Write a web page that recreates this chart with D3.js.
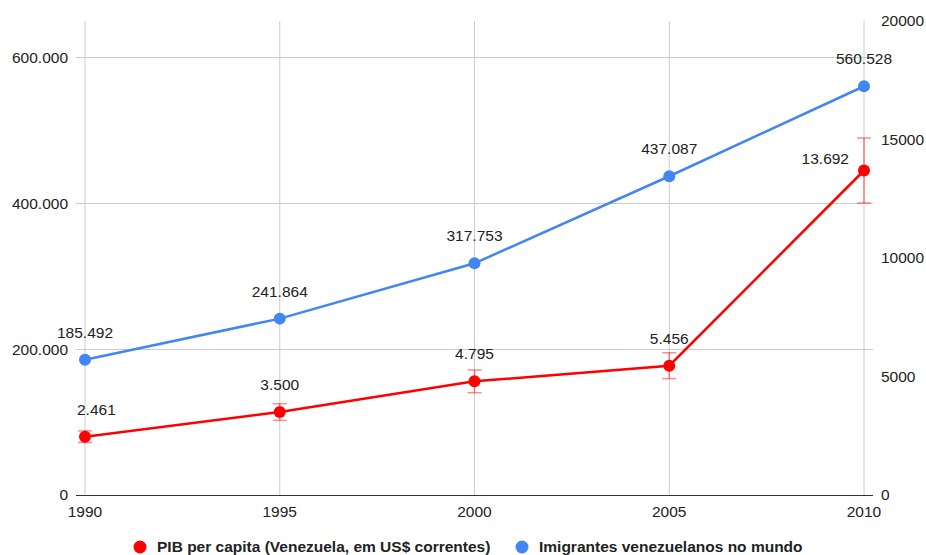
<!DOCTYPE html>
<html>
<head>
<meta charset="utf-8">
<script src="https://cdn.jsdelivr.net/npm/d3@7"></script>
<style>
  html, body { margin: 0; padding: 0; background: #fff; }
  svg { display: block; font-family: "Liberation Sans", Arial, sans-serif; }
</style>
</head>
<body>
<svg id="chart" width="926" height="555"></svg>
<script>
// Years on the x axis
const years = [1990, 1995, 2000, 2005, 2010];
// GDP per capita of Venezuela (current US$), right axis
const pibPerCapita = [2461, 3500, 4795, 5456, 13692];
// Venezuelan emigrants worldwide, left axis
const imigrantes = [185492, 241864, 317753, 437087, 560528];
// Relative error shown on the GDP series
const pibErrorFraction = 0.10;

const leftTicks = [0, 200000, 400000, 600000];
const rightTicks = [0, 5000, 10000, 15000, 20000];

const seriesNames = ["PIB per capita (Venezuela, em US$ correntes)", "Imigrantes venezuelanos no mundo"];
const colors = { pib: "#ff0000", imig: "#4285f4" };

const FS = 15.5;
const fmt = d3.formatLocale({ decimal: ",", thousands: ".", grouping: [3], currency: ["", ""] }).format(",d");

const svg = d3.select("#chart");
const plot = { left: 85, right: 864, top: 21, bottom: 495 };

const x = d3.scaleLinear().domain([1990, 2010]).range([plot.left, plot.right]);
const yLeft = d3.scaleLinear().domain([0, 650000]).range([plot.bottom, plot.top]);
const yRight = d3.scaleLinear().domain([0, 20000]).range([plot.bottom, plot.top]);

// Vertical gridlines at each year
svg.append("g").selectAll("line").data(years).join("line")
  .attr("x1", d => x(d)).attr("x2", d => x(d))
  .attr("y1", plot.top).attr("y2", plot.bottom)
  .attr("stroke", "#cccccc").attr("stroke-width", 1);

// Horizontal gridlines from the left axis
svg.append("g").selectAll("line").data(leftTicks.filter(d => d > 0)).join("line")
  .attr("x1", plot.left - 9).attr("x2", plot.right + 9)
  .attr("y1", d => Math.round(yLeft(d)) + 0.5).attr("y2", d => Math.round(yLeft(d)) + 0.5)
  .attr("stroke", "#cccccc").attr("stroke-width", 1);

// Baseline
svg.append("line")
  .attr("x1", plot.left - 9).attr("x2", plot.right + 9)
  .attr("y1", yLeft(0) + 0.5).attr("y2", yLeft(0) + 0.5)
  .attr("stroke", "#333333").attr("stroke-width", 1.2);

// Left axis labels
svg.append("g").selectAll("text").data(leftTicks).join("text")
  .attr("x", 68).attr("y", d => yLeft(d)).attr("dy", "0.35em")
  .attr("text-anchor", "end").attr("font-size", FS).attr("fill", "#222")
  .text(d => fmt(d));

// Right axis labels
svg.append("g").selectAll("text").data(rightTicks).join("text")
  .attr("x", 881).attr("y", d => yRight(d)).attr("dy", "0.35em")
  .attr("text-anchor", "start").attr("font-size", FS).attr("fill", "#222")
  .text(d => d);

// Year labels
svg.append("g").selectAll("text").data(years).join("text")
  .attr("x", d => x(d)).attr("y", plot.bottom + 17).attr("dy", "0.35em")
  .attr("text-anchor", "middle").attr("font-size", FS).attr("fill", "#222")
  .text(d => d);

// Immigrants series (left axis)
const imigData = years.map((yr, i) => ({ yr, v: imigrantes[i] }));
svg.append("path").datum(imigData)
  .attr("fill", "none").attr("stroke", colors.imig).attr("stroke-width", 2.5)
  .attr("d", d3.line().x(d => x(d.yr)).y(d => yLeft(d.v)));
svg.append("g").selectAll("circle").data(imigData).join("circle")
  .attr("cx", d => x(d.yr)).attr("cy", d => yLeft(d.v)).attr("r", 6)
  .attr("fill", colors.imig);
svg.append("g").selectAll("text").data(imigData).join("text")
  .attr("x", d => x(d.yr)).attr("y", d => yLeft(d.v) - 22)
  .attr("text-anchor", "middle").attr("font-size", FS).attr("fill", "#222")
  .text(d => fmt(d.v));

// GDP per capita series (right axis) with error bars
const pibData = years.map((yr, i) => ({ yr, v: pibPerCapita[i], last: i === years.length - 1, first: i === 0 }));
const err = svg.append("g").attr("stroke", "#ff0000").attr("stroke-opacity", 0.45).attr("stroke-width", 1.5);
err.selectAll("line.v").data(pibData).join("line").attr("class", "v")
  .attr("x1", d => x(d.yr)).attr("x2", d => x(d.yr))
  .attr("y1", d => yRight(d.v * (1 + pibErrorFraction))).attr("y2", d => yRight(d.v * (1 - pibErrorFraction)));
err.selectAll("line.t").data(pibData).join("line").attr("class", "t")
  .attr("x1", d => x(d.yr) - 7).attr("x2", d => x(d.yr) + 7)
  .attr("y1", d => yRight(d.v * (1 + pibErrorFraction))).attr("y2", d => yRight(d.v * (1 + pibErrorFraction)));
err.selectAll("line.b").data(pibData).join("line").attr("class", "b")
  .attr("x1", d => x(d.yr) - 7).attr("x2", d => x(d.yr) + 7)
  .attr("y1", d => yRight(d.v * (1 - pibErrorFraction))).attr("y2", d => yRight(d.v * (1 - pibErrorFraction)));

svg.append("path").datum(pibData)
  .attr("fill", "none").attr("stroke", colors.pib).attr("stroke-width", 2.5)
  .attr("d", d3.line().x(d => x(d.yr)).y(d => yRight(d.v)));
svg.append("g").selectAll("circle").data(pibData).join("circle")
  .attr("cx", d => x(d.yr)).attr("cy", d => yRight(d.v)).attr("r", 6)
  .attr("fill", colors.pib);
svg.append("g").selectAll("text").data(pibData).join("text")
  .attr("x", d => d.last ? x(d.yr) - 15 : (d.first ? x(d.yr) - 8 : x(d.yr)))
  .attr("y", d => d.last ? yRight(d.v) - 6 : yRight(d.v) - 22)
  .attr("text-anchor", d => d.last ? "end" : (d.first ? "start" : "middle"))
  .attr("font-size", FS).attr("fill", "#222")
  .text(d => fmt(d.v));

// Legend
const legend = svg.append("g").attr("font-size", FS).attr("font-weight", "bold").attr("fill", "#222");
const legendItems = [
  { name: seriesNames[0], color: colors.pib, cx: 140 },
  { name: seriesNames[1], color: colors.imig, cx: 522 }
];
legendItems.forEach(it => {
  legend.append("circle").attr("cx", it.cx).attr("cy", 547).attr("r", 6.5).attr("fill", it.color);
  legend.append("text").attr("x", it.cx + 17).attr("y", 547).attr("dy", "0.35em").text(it.name);
});
</script>
</body>
</html>
